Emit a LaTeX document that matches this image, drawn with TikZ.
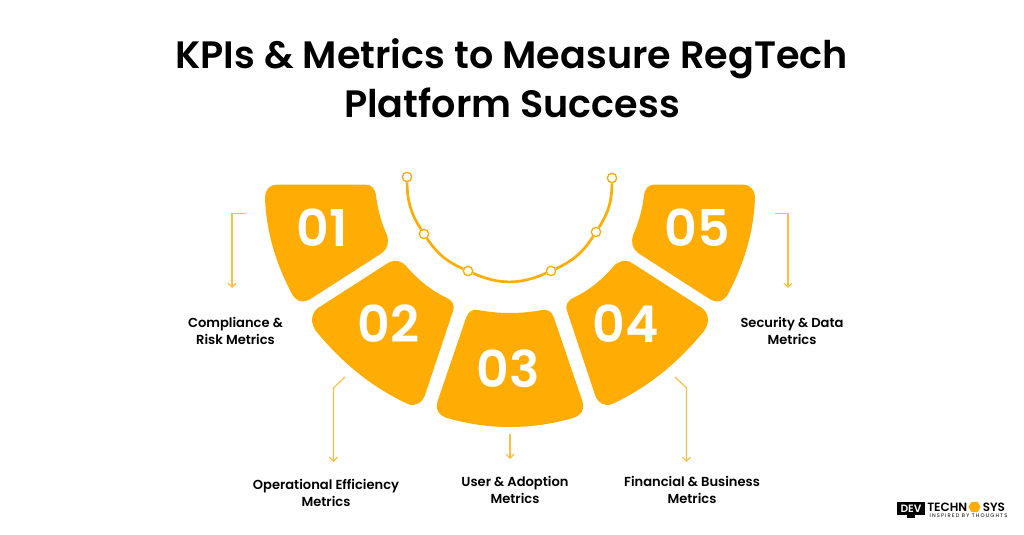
\documentclass[tikz,border=0pt]{standalone}
\usepackage{fontspec}
\setmainfont{Poppins}[BoldFont={Poppins SemiBold}]
\newfontfamily\tagfont{Poppins}[LetterSpace=22]
\usetikzlibrary{arrows.meta,shapes.geometric}
\definecolor{kpiorange}{HTML}{FFAD05}
\definecolor{kpiline}{HTML}{FFBE3C}
\tikzset{
  blade/.style={fill=kpiorange, draw=none},
  num/.style={text=white, font=\fontsize{38}{38}\selectfont\bfseries, inner sep=0pt, anchor=base},
  lab/.style={align=center, font=\fontsize{9.8}{12.75}\selectfont\bfseries, inner sep=0pt},
  hdr/.style={font=\fontsize{28.6}{28.6}\selectfont\bfseries, inner sep=0pt, anchor=base},
  dot/.style={draw=kpiorange, fill=white, circle, line width=1pt, minimum size=7pt, inner sep=0pt},
  arc/.style={draw=kpiorange, line width=2pt},
  lead/.style={draw=kpiline, line width=0.85pt, -{Straight Barb[length=3pt,width=6pt]}},
  brand/.style={font=\fontsize{9}{9}\selectfont\bfseries, inner sep=0pt, anchor=west},
}
\begin{document}
\begin{tikzpicture}[x=0.75pt, y=-0.75pt]
  \useasboundingbox (0,0) rectangle (1024,535);

  % titulo
  \node[hdr] (t1) at (511.5,69) {KPIs \& Metrics to Measure RegTech};
  \node[hdr] (t2) at (512,117.5) {Platform Success};

  % arco com os pontos
  \node[dot] (d1) at (407,177) {};
  \node[dot] (d2) at (424,234) {};
  \node[dot] (d3) at (468,271) {};
  \node[dot] (d4) at (551,271) {};
  \node[dot] (d5) at (596,232) {};
  \node[dot] (d6) at (612,178) {};
  \draw[arc] (d1) to[bend right=16] (d2);
  \draw[arc] (d2) to[bend right=16] (d3);
  \draw[arc] (d3) to[bend right=24] (d4);
  \draw[arc] (d4) to[bend right=16] (d5);
  \draw[arc] (d5) to[bend right=16] (d6);

  % lamina 01
  \fill[blade] (277,184.5) -- (365,184.5) .. controls (372,184.5) and (375,189) .. (376,195)
    .. controls (378,212) and (382,224) .. (387,235)
    .. controls (389,241) and (388,249) .. (382,253) -- (312,298)
    .. controls (305,303) and (297,303) .. (292,294)
    .. controls (275,262) and (266,230) .. (265,197)
    .. controls (265,190) and (270,184.5) .. (277,184.5) -- cycle;
  % lamina 02
  \fill[blade] (318,308) -- (388,263) .. controls (395,259) and (402,261) .. (407,267)
    .. controls (418,280) and (432,291) .. (447,298)
    .. controls (453,301) and (455,306) .. (453,311) -- (425,395)
    .. controls (422,403) and (415,407) .. (408,404)
    .. controls (373,388) and (342,363) .. (316,331)
    .. controls (310,323) and (311,313) .. (318,308) -- cycle;
  % lamina 03
  \fill[blade] (478,310) .. controls (499,314) and (521,314) .. (542,310)
    .. controls (548,309) and (552,312) .. (554,318) -- (582,400)
    .. controls (585,409) and (582,415) .. (573,418)
    .. controls (531,430) and (489,430) .. (447,418)
    .. controls (438,415) and (435,409) .. (438,400) -- (466,318)
    .. controls (468,312) and (472,309) .. (478,310) -- cycle;
  % lamina 04
  \fill[blade] (702,308) -- (632,263) .. controls (625,259) and (618,261) .. (613,267)
    .. controls (602,280) and (588,291) .. (573,298)
    .. controls (567,301) and (565,306) .. (567,311) -- (595,395)
    .. controls (598,403) and (605,407) .. (612,404)
    .. controls (647,388) and (678,363) .. (704,331)
    .. controls (710,323) and (709,313) .. (702,308) -- cycle;
  % lamina 05
  \fill[blade] (743,184.5) -- (655,184.5) .. controls (648,184.5) and (645,189) .. (644,195)
    .. controls (642,212) and (638,224) .. (633,235)
    .. controls (631,241) and (632,249) .. (638,253) -- (708,298)
    .. controls (715,303) and (723,303) .. (728,294)
    .. controls (745,262) and (754,230) .. (755,197)
    .. controls (755,190) and (750,184.5) .. (743,184.5) -- cycle;

  % numeros
  \node[num] (n1) at (322,246.5) {01};
  \node[num] (n2) at (388.5,342) {02};
  \node[num] (n3) at (508,387) {03};
  \node[num] (n4) at (626,342) {04};
  \node[num] (n5) at (697,246.5) {05};

  % rotulos
  \node[lab] (l1) at (235.5,331) {Compliance \&\\Risk Metrics};
  \node[lab] (l2) at (326,493) {Operational Efficiency\\Metrics};
  \node[lab] (l3) at (515,490) {User \& Adoption\\Metrics};
  \node[lab] (l4) at (692,490) {Financial \& Business\\Metrics};
  \node[lab] (l5) at (792,331) {Security \& Data\\Metrics};

  % ligacoes
  \coordinate (a1) at (246,213.5);
  \coordinate (b1) at (232,288);
  \coordinate (a2) at (345,377);
  \coordinate (b2) at (333.5,462);
  \coordinate (a3) at (510,434);
  \coordinate (b3) at (510,459);
  \coordinate (a4) at (675,377);
  \coordinate (b4) at (686.5,462);
  \coordinate (a5) at (775,213.5);
  \coordinate (b5) at (788,288);
  \draw[lead] (a1) -| (b1);
  \draw[lead] (a2) -- (333.5,388) -- (b2);
  \draw[lead] (a3) -- (b3);
  \draw[lead] (a4) -- (686.5,388) -- (b4);
  \draw[lead] (a5) -| (b5);

  % marca
  \node[fill=black, text=white, minimum width=21pt, minimum height=9.8pt, inner sep=0pt, font=\fontsize{8}{8}\selectfont\bfseries] (dev) at (911,508.5) {DEV};
  \fill (907,515) rectangle (915,517.5);
  \node[brand] (tech) at (927,507) {TECHN};
  \node[fill=kpiorange, regular polygon, regular polygon sides=6, minimum size=9pt, inner sep=0pt] (hex) at (974.5,507) {};
  \node[brand] (sys) at (982.5,507) {SYS};
  \node[font=\tagfont\fontsize{3.9}{3.9}\selectfont, inner sep=0pt] (tag) at (968.5,516) {INSPIRED BY THOUGHTS};
\end{tikzpicture}
\end{document}
